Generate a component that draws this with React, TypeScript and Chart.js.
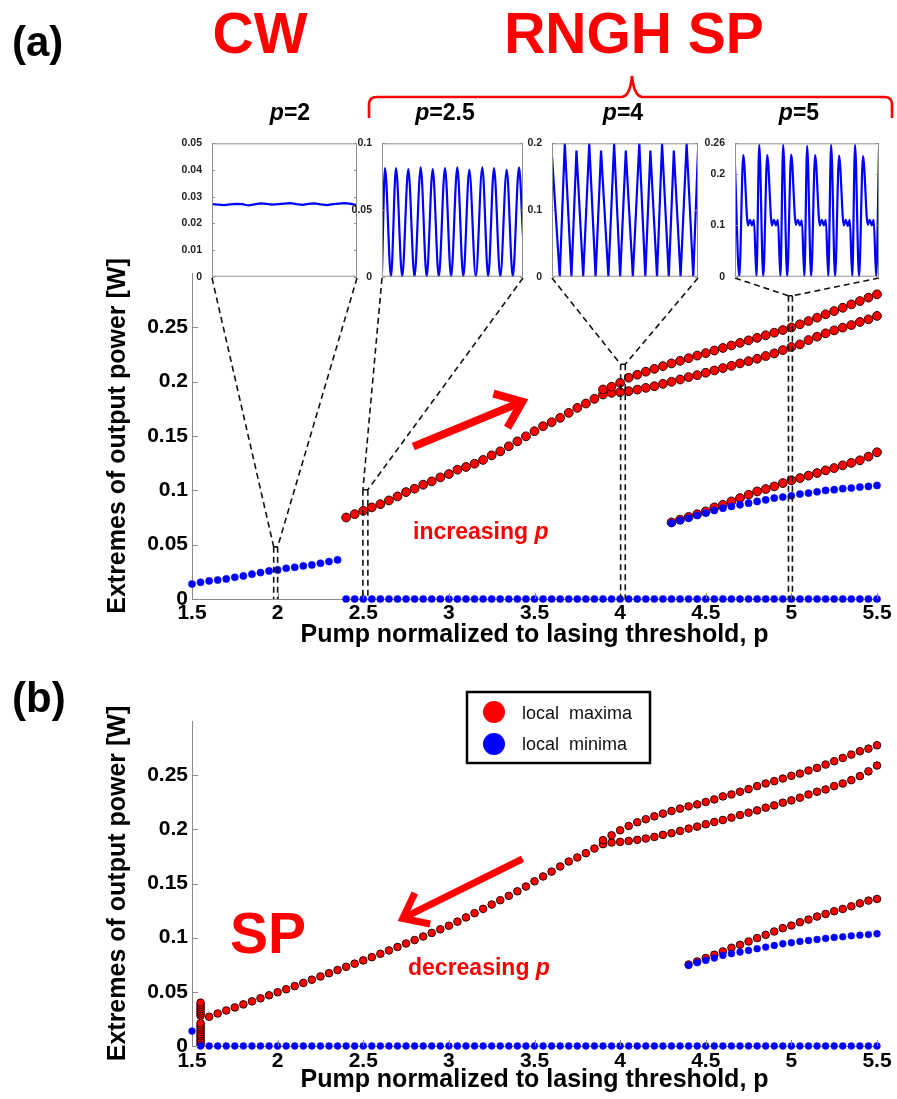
import React, { useEffect, useRef } from "react";
import { Chart, registerables } from "chart.js";

Chart.register(...registerables);

const FONT = '"Liberation Sans", Arial, Helvetica, sans-serif';
const RED = "#ff0000";
const BLUE = "#0000ff";
const AXIS_GRAY = "#8a8a8a";

// ---------------- pump grid (normalized pump p) ----------------
const P_GRID = [
  1.5, 1.55, 1.6, 1.65, 1.7, 1.75, 1.8, 1.85, 1.9, 1.95,
  2, 2.05, 2.1, 2.15, 2.2, 2.25, 2.3, 2.35, 2.4, 2.45,
  2.5, 2.55, 2.6, 2.65, 2.7, 2.75, 2.8, 2.85, 2.9, 2.95,
  3, 3.05, 3.1, 3.15, 3.2, 3.25, 3.3, 3.35, 3.4, 3.45,
  3.5, 3.55, 3.6, 3.65, 3.7, 3.75, 3.8, 3.85, 3.9, 3.95,
  4, 4.05, 4.1, 4.15, 4.2, 4.25, 4.3, 4.35, 4.4, 4.45,
  4.5, 4.55, 4.6, 4.65, 4.7, 4.75, 4.8, 4.85, 4.9, 4.95,
  5, 5.05, 5.1, 5.15, 5.2, 5.25, 5.3, 5.35, 5.4, 5.45,
  5.5,
];

const X_TICKS = [1.5, 2, 2.5, 3, 3.5, 4, 4.5, 5, 5.5];
const X_TICK_LABELS = ["1.5", "2", "2.5", "3", "3.5", "4", "4.5", "5", "5.5"];
const Y_TICKS = [0, 0.05, 0.1, 0.15, 0.2, 0.25];
const Y_TICK_LABELS = ["0", "0.05", "0.1", "0.15", "0.2", "0.25"];
const X_TITLE = "Pump normalized to lasing threshold, p";
const Y_TITLE = "Extremes of output power [W]";

// ---------------- panel (a): increasing p ----------------
// CW regime (maxima == minima), p = 1.5 ... 2.35
const A_MIN_CW = [
  0.0138, 0.0154, 0.0166, 0.0175, 0.0185, 0.02, 0.0212, 0.0228, 0.0243,
  0.0258, 0.0268, 0.0283, 0.0292, 0.0304, 0.0314, 0.0329, 0.0344, 0.036,
];
// minima at zero, p = 2.4 ... 5.5
const A_MIN_ZERO = [
  0, 0, 0, 0, 0, 0, 0, 0, 0, 0,
  0, 0, 0, 0, 0, 0, 0, 0, 0, 0,
  0, 0, 0, 0, 0, 0, 0, 0, 0, 0,
  0, 0, 0, 0, 0, 0, 0, 0, 0, 0,
  0, 0, 0, 0, 0, 0, 0, 0, 0, 0,
  0, 0, 0, 0, 0, 0, 0, 0, 0, 0,
  0, 0, 0,
];
// upper maxima branch, p = 2.4 ... 5.5
const A_MAX_UPPER = [
  0.075, 0.0781, 0.0812, 0.0843, 0.0873, 0.0907, 0.0944, 0.0984, 0.1015, 0.1052,
  0.1082, 0.1119, 0.115, 0.119, 0.1215, 0.1245, 0.128, 0.1322, 0.1359, 0.1405,
  0.1451, 0.1497, 0.1544, 0.159, 0.1627, 0.1667, 0.1713, 0.1759, 0.1799, 0.1842,
  0.1928, 0.1953, 0.199, 0.2036, 0.2064, 0.2092, 0.2118, 0.2143, 0.2168, 0.2192,
  0.2216, 0.224, 0.2263, 0.2287, 0.231, 0.2333, 0.2357, 0.238, 0.2403, 0.2427,
  0.2451, 0.2475, 0.2499, 0.2528, 0.2558, 0.2589, 0.262, 0.265, 0.268, 0.2711,
  0.2742, 0.2773, 0.2804,
];
// lower maxima branch, p = 3.9 ... 5.5
const A_MAX_LOWER = [
  0.1882, 0.1897, 0.1903, 0.1913, 0.1927, 0.1943, 0.1958, 0.198, 0.1999, 0.202,
  0.2042, 0.206, 0.2082, 0.2103, 0.2125, 0.2146, 0.2168, 0.2189, 0.2211, 0.2236,
  0.226, 0.2291, 0.2319, 0.2343, 0.2383, 0.2414, 0.2445, 0.2472, 0.2497, 0.2521,
  0.2549, 0.2574, 0.2605,
];
// third maxima branch, p = 4.3 ... 5.5
const A_MAX_THIRD = [
  0.0705, 0.073, 0.0755, 0.078, 0.0806, 0.0843, 0.0867, 0.0898, 0.0929, 0.0959,
  0.099, 0.1012, 0.1036, 0.1067, 0.1092, 0.1113, 0.1135, 0.1159, 0.1184, 0.1205,
  0.123, 0.1252, 0.1276, 0.131, 0.135,
];
// non-zero minima branch, p = 4.3 ... 5.5
const A_MIN_LOW = [
  0.0698, 0.0723, 0.0744, 0.0769, 0.079, 0.0815, 0.0836, 0.0852, 0.0867, 0.0882,
  0.0898, 0.0913, 0.0929, 0.0938, 0.095, 0.0966, 0.0975, 0.0987, 0.0999, 0.1006,
  0.1015, 0.1021, 0.103, 0.1036, 0.1045,
];

// ---------------- panel (b): decreasing p ----------------
const B_MIN_FIRST = [0.0138]; // p = 1.5
// minima at zero, p = 1.55 ... 5.5
const B_MIN_ZERO = [
  0, 0, 0, 0, 0, 0, 0, 0, 0, 0,
  0, 0, 0, 0, 0, 0, 0, 0, 0, 0,
  0, 0, 0, 0, 0, 0, 0, 0, 0, 0,
  0, 0, 0, 0, 0, 0, 0, 0, 0, 0,
  0, 0, 0, 0, 0, 0, 0, 0, 0, 0,
  0, 0, 0, 0, 0, 0, 0, 0, 0, 0,
  0, 0, 0, 0, 0, 0, 0, 0, 0, 0,
  0, 0, 0, 0, 0, 0, 0, 0, 0, 0,
];
// scattered maxima at the jump, p = 1.55
const B_CLUSTER_P = 1.55;
const B_MAX_CLUSTER = [
  0.001, 0.003, 0.005, 0.007, 0.009, 0.011, 0.013, 0.015, 0.017, 0.019, 0.021,
  0.028, 0.03, 0.032, 0.034, 0.036, 0.038, 0.04,
];
// upper maxima branch, p = 1.6 ... 5.5
const B_MAX_UPPER = [
  0.027, 0.03, 0.0328, 0.0356, 0.0384, 0.0412, 0.044, 0.0468, 0.0496, 0.0524,
  0.0553, 0.0582, 0.0612, 0.0642, 0.0672, 0.0701, 0.0731, 0.076, 0.079, 0.082,
  0.0851, 0.0882, 0.0914, 0.0946, 0.0978, 0.1011, 0.1044, 0.1077, 0.111, 0.1148,
  0.1187, 0.1226, 0.1266, 0.1306, 0.1346, 0.1386, 0.1428, 0.1472, 0.152, 0.1565,
  0.161, 0.1657, 0.1703, 0.174, 0.178, 0.1823, 0.19, 0.1945, 0.1991, 0.2031,
  0.2065, 0.2093, 0.212, 0.2145, 0.2169, 0.2191, 0.2212, 0.223, 0.2252, 0.2276,
  0.2304, 0.2322, 0.2347, 0.2371, 0.2399, 0.2423, 0.2445, 0.2469, 0.2494, 0.2515,
  0.2543, 0.2567, 0.2598, 0.2629, 0.2659, 0.269, 0.2721, 0.2745, 0.2776,
];
// lower maxima branch, p = 3.9 ... 5.5
const B_MAX_LOWER = [
  0.1863, 0.1878, 0.1884, 0.1893, 0.1903, 0.1915, 0.193, 0.1949, 0.1964, 0.1985,
  0.2007, 0.2025, 0.2047, 0.2068, 0.2086, 0.2108, 0.2132, 0.2154, 0.2175, 0.22,
  0.2221, 0.2246, 0.2267, 0.2292, 0.2322, 0.2347, 0.2368, 0.2399, 0.2423, 0.2454,
  0.2491, 0.2535, 0.2589,
];
// third maxima branch, p = 4.4 ... 5.5
const B_MAX_THIRD = [
  0.0752, 0.078, 0.0812, 0.0843, 0.0873, 0.0907, 0.0934, 0.0965, 0.0996, 0.1026,
  0.1057, 0.1088, 0.1112, 0.1143, 0.1167, 0.1195, 0.1219, 0.1244, 0.1265, 0.129,
  0.1317, 0.1342, 0.1357,
];
// non-zero minima branch, p = 4.4 ... 5.5
const B_MIN_LOW = [
  0.0744, 0.0769, 0.079, 0.0812, 0.0836, 0.0852, 0.0867, 0.0882, 0.0898, 0.0913,
  0.0928, 0.0944, 0.0953, 0.0965, 0.0974, 0.0983, 0.0993, 0.1002, 0.1008, 0.1017,
  0.1023, 0.1029, 0.1036,
];

// ---------------- inset time traces (output power vs time) ----------------
const INSET1_T = [0, 1, 2, 3, 4, 5, 6, 7, 8, 9, 10, 11, 12, 13, 14, 15, 16, 17, 18, 19, 20, 21, 22, 23, 24];
const INSET1_V = [
  0.0272, 0.027, 0.0268, 0.0271, 0.0273, 0.0272, 0.0267, 0.0271, 0.0275, 0.0273,
  0.027, 0.0272, 0.0274, 0.0276, 0.0272, 0.0269, 0.0273, 0.0275, 0.0271, 0.0268,
  0.0272, 0.0274, 0.0276, 0.0273, 0.0268,
];
const INSET2_T = [
  0, 3, 9, 14, 20.2, 26.3, 32.5, 38.7, 44.7, 50.7, 56.8, 63, 69.1, 75.3, 81.3,
  87.3, 93.8, 100.3, 106.2, 112, 118.3, 124.7, 130.8, 137, 141,
];
const INSET2_V = [
  0.004, 0.0814, 0, 0.0814, 0, 0.0806, 0, 0.0819, 0, 0.0806, 0, 0.0814, 0,
  0.0819, 0, 0.0801, 0, 0.0819, 0, 0.0814, 0, 0.0801, 0, 0.0819, 0.03,
];
const INSET3_T = [
  0, 7.7, 12.7, 19.3, 24.3, 31, 37, 43.3, 48.7, 56, 61.7, 67.7, 73.3, 80.3,
  86.7, 92.7, 97.7, 104.3, 109.3, 116, 121, 127.7, 133.7, 140.3, 145,
];
const INSET3_V = [
  0.181, 0, 0.2, 0, 0.189, 0, 0.2, 0, 0.189, 0, 0.2, 0, 0.189, 0, 0.2, 0,
  0.189, 0, 0.2, 0, 0.189, 0, 0.2, 0, 0.189,
];
const INSET4_T = [
  0,
  4.3, 8.3, 13, 15, 17, 19, 21.5, 24.3,
  28.3, 32.3, 37, 39, 41, 43, 45.5, 48.3,
  52.3, 56.3, 61, 63, 65, 67, 69.5, 72.3,
  76.3, 80.3, 85, 87, 89, 91, 93.5, 96.3,
  100.3, 104.3, 109, 111, 113, 115, 117.5, 120.3,
  124.3, 128.3, 133, 135, 137, 139, 141.5, 144.3,
];
const INSET4_V = [
  0.2145,
  0, 0.237, 0.1, 0.111, 0.1, 0.111, 0, 0.2568,
  0, 0.237, 0.1, 0.111, 0.1, 0.111, 0, 0.2568,
  0, 0.238, 0.101, 0.111, 0.1, 0.11, 0, 0.2548,
  0, 0.237, 0.1, 0.111, 0.1, 0.111, 0, 0.2568,
  0, 0.236, 0.1, 0.111, 0.099, 0.111, 0, 0.2568,
  0, 0.235, 0.101, 0.111, 0.1, 0.111, 0, 0.25,
];

// inset boxes (page pixels) and their settings
const INSETS = [
  { L: 212, R: 357, tMax: 24, yMax: 0.05, ticks: [0, 0.01, 0.02, 0.03, 0.04, 0.05], labels: ["0", "0.01", "0.02", "0.03", "0.04", "0.05"], T: INSET1_T, V: INSET1_V, smooth: false },
  { L: 382, R: 523, tMax: 141, yMax: 0.1, ticks: [0, 0.05, 0.1], labels: ["0", "0.05", "0.1"], T: INSET2_T, V: INSET2_V, smooth: true },
  { L: 552, R: 698, tMax: 145, yMax: 0.2, ticks: [0, 0.1, 0.2], labels: ["0", "0.1", "0.2"], T: INSET3_T, V: INSET3_V, smooth: false },
  { L: 735, R: 879, tMax: 144.3, yMax: 0.26, ticks: [0, 0.1, 0.2, 0.26], labels: ["0", "0.1", "0.2", "0.26"], T: INSET4_T, V: INSET4_V, smooth: true },
];
const INSET_TOP = 143;
const INSET_BOTTOM = 278;

// zoom windows on panel (a) in data units
const ZOOM_WINDOWS = [
  { p0: 1.977, p1: 2.0, top: 0.048 },
  { p0: 2.498, p1: 2.527, top: 0.1006 },
  { p0: 4.003, p1: 4.03, top: 0.216 },
  { p0: 4.983, p1: 5.006, top: 0.279 },
];
const P_LABELS = [
  { cx: 290, text: "=2" },
  { cx: 445, text: "=2.5" },
  { cx: 623, text: "=4" },
  { cx: 799, text: "=5" },
];

// ---------------- helpers ----------------
function series(startP: number, values: number[]) {
  const i0 = P_GRID.findIndex((p) => Math.abs(p - startP) < 1e-9);
  return values.map((v, i) => ({ x: P_GRID[i0 + i], y: v }));
}

function redSet(label: string, data: any[], r: number) {
  return {
    label,
    data,
    showLine: false,
    pointRadius: r,
    pointBackgroundColor: RED,
    pointBorderColor: "#2a0000",
    pointBorderWidth: 1,
    clip: false as any,
  };
}
function blueSet(label: string, data: any[], r: number) {
  return {
    label,
    data,
    showLine: false,
    pointRadius: r,
    pointBackgroundColor: BLUE,
    pointBorderColor: BLUE,
    pointBorderWidth: 0.5,
    clip: false as any,
  };
}

function text(ctx: CanvasRenderingContext2D, s: string, x: number, y: number, font: string, color: string, align: CanvasTextAlign = "left") {
  ctx.save();
  ctx.font = font;
  ctx.fillStyle = color;
  ctx.textAlign = align;
  ctx.textBaseline = "alphabetic";
  ctx.fillText(s, x, y);
  ctx.restore();
}

// text followed by italic p, or italic p followed by text
function mixedP(ctx: CanvasRenderingContext2D, before: string, after: string, x: number, y: number, size: number, color: string, centered: boolean) {
  ctx.save();
  const bold = `bold ${size}px ${FONT}`;
  const ital = `italic bold ${size}px ${FONT}`;
  ctx.font = bold;
  const w1 = ctx.measureText(before).width;
  const w3 = ctx.measureText(after).width;
  ctx.font = ital;
  const w2 = ctx.measureText("p").width;
  let sx = centered ? x - (w1 + w2 + w3) / 2 : x;
  ctx.fillStyle = color;
  ctx.textBaseline = "alphabetic";
  ctx.textAlign = "left";
  ctx.font = bold;
  ctx.fillText(before, sx, y);
  ctx.font = ital;
  ctx.fillText("p", sx + w1, y);
  ctx.font = bold;
  ctx.fillText(after, sx + w1 + w2, y);
  ctx.restore();
}

function arrow(ctx: CanvasRenderingContext2D, x0: number, y0: number, x1: number, y1: number, w: number, head: number, color: string) {
  const dx = x1 - x0;
  const dy = y1 - y0;
  const L = Math.hypot(dx, dy);
  const ux = dx / L;
  const uy = dy / L;
  const tx = x1 - ux * w * 0.7;
  const ty = y1 - uy * w * 0.7;
  ctx.save();
  ctx.strokeStyle = color;
  ctx.lineWidth = w;
  ctx.lineCap = "butt";
  ctx.lineJoin = "miter";
  ctx.beginPath();
  ctx.moveTo(x0, y0);
  ctx.lineTo(tx - ux * 2, ty - uy * 2);
  ctx.stroke();
  const a = (38 * Math.PI) / 180;
  const bx = -ux;
  const by = -uy;
  const a1x = tx + head * (bx * Math.cos(a) - by * Math.sin(a));
  const a1y = ty + head * (bx * Math.sin(a) + by * Math.cos(a));
  const a2x = tx + head * (bx * Math.cos(-a) - by * Math.sin(-a));
  const a2y = ty + head * (bx * Math.sin(-a) + by * Math.cos(-a));
  ctx.beginPath();
  ctx.moveTo(a1x, a1y);
  ctx.lineTo(tx, ty);
  ctx.lineTo(a2x, a2y);
  ctx.stroke();
  ctx.restore();
}

function inwardTicks(chart: any) {
  const { ctx, chartArea, scales } = chart;
  ctx.save();
  ctx.strokeStyle = AXIS_GRAY;
  ctx.lineWidth = 1;
  ctx.beginPath();
  for (const v of X_TICKS) {
    const x = Math.round(scales.x.getPixelForValue(v)) + 0.5;
    ctx.moveTo(x, chartArea.bottom);
    ctx.lineTo(x, chartArea.bottom - 6);
  }
  for (const v of Y_TICKS) {
    const y = Math.round(scales.y.getPixelForValue(v)) + 0.5;
    ctx.moveTo(chartArea.left, y);
    ctx.lineTo(chartArea.left + 6, y);
  }
  ctx.stroke();
  ctx.restore();
}

// ---------------- plugins ----------------
const panelAPlugin = {
  id: "panelA",
  afterDraw(chart: any) {
    const { ctx, scales } = chart;
    inwardTicks(chart);
    const X = (p: number) => scales.x.getPixelForValue(p);
    const Y = (v: number) => scales.y.getPixelForValue(v);

    text(ctx, "(a)", 12, 56, `bold 42px ${FONT}`, "#000");
    text(ctx, "CW", 260, 53, `bold 57px ${FONT}`, RED, "center");
    text(ctx, "RNGH SP", 634, 53, `bold 57px ${FONT}`, RED, "center");

    // bracket
    ctx.save();
    ctx.strokeStyle = RED;
    ctx.lineWidth = 2.6;
    ctx.beginPath();
    ctx.moveTo(369, 118);
    ctx.lineTo(369, 104);
    ctx.quadraticCurveTo(369, 97, 377, 97);
    ctx.lineTo(622, 97);
    ctx.quadraticCurveTo(630, 96, 632, 76);
    ctx.quadraticCurveTo(634, 96, 642, 97);
    ctx.lineTo(884, 97);
    ctx.quadraticCurveTo(892, 97, 892, 104);
    ctx.lineTo(892, 118);
    ctx.stroke();
    ctx.restore();

    for (const pl of P_LABELS) mixedP(ctx, "", pl.text, pl.cx, 120, 23, "#000", true);

    // dashed zoom connectors
    ctx.save();
    ctx.strokeStyle = "#111";
    ctx.lineWidth = 1.6;
    ctx.setLineDash([6, 4]);
    ZOOM_WINDOWS.forEach((w, i) => {
      const ins = INSETS[i];
      const x0 = X(w.p0);
      const x1 = X(w.p1);
      const yt = Y(w.top);
      const yb = Y(0);
      ctx.beginPath();
      ctx.moveTo(ins.L, INSET_BOTTOM);
      ctx.lineTo(x0, yt);
      ctx.moveTo(ins.R, INSET_BOTTOM);
      ctx.lineTo(x1, yt);
      ctx.moveTo(x0, yt);
      ctx.lineTo(x0, yb);
      ctx.moveTo(x1, yt);
      ctx.lineTo(x1, yb);
      ctx.moveTo(x0, yt);
      ctx.lineTo(x1, yt);
      ctx.stroke();
    });
    ctx.restore();

    arrow(ctx, X(2.792), Y(0.1402), X(3.459), Y(0.1836), 8, 30, RED);
    mixedP(ctx, "increasing ", "", 413, 539, 23, RED, false);
  },
};

const panelBPlugin = {
  id: "panelB",
  afterDraw(chart: any) {
    const { ctx, scales } = chart;
    inwardTicks(chart);
    const X = (p: number) => scales.x.getPixelForValue(p);
    const Y = (v: number) => scales.y.getPixelForValue(v);

    text(ctx, "(b)", 12, 52, `bold 42px ${FONT}`, "#000");
    text(ctx, "SP", 268, 293, `bold 57px ${FONT}`, RED, "center");
    arrow(ctx, X(3.43), Y(0.1728), X(2.705), Y(0.1158), 7, 28, RED);
    mixedP(ctx, "decreasing ", "", 408, 315, 23, RED, false);

    // legend
    ctx.save();
    ctx.fillStyle = "#fff";
    ctx.fillRect(467, 32, 183, 71);
    ctx.strokeStyle = "#000";
    ctx.lineWidth = 2.5;
    ctx.strokeRect(467, 32, 183, 71);
    ctx.fillStyle = RED;
    ctx.beginPath();
    ctx.arc(494, 52, 11, 0, Math.PI * 2);
    ctx.fill();
    ctx.fillStyle = BLUE;
    ctx.beginPath();
    ctx.arc(494, 84, 11, 0, Math.PI * 2);
    ctx.fill();
    ctx.restore();
    text(ctx, "local  maxima", 522, 59, `18px ${FONT}`, "#111");
    text(ctx, "local  minima", 522, 90, `18px ${FONT}`, "#111");
  },
};

const insetPlugin = {
  id: "insetBox",
  beforeDraw(chart: any) {
    const { ctx, chartArea: a } = chart;
    ctx.save();
    ctx.fillStyle = "#fff";
    ctx.fillRect(a.left, a.top, a.right - a.left, a.bottom - a.top);
    ctx.restore();
  },
  afterDraw(chart: any) {
    const { ctx, chartArea: a, scales } = chart;
    ctx.save();
    ctx.strokeStyle = "#8f8f8f";
    ctx.lineWidth = 1;
    ctx.strokeRect(a.left + 0.5, a.top + 0.5, a.right - a.left - 1, a.bottom - a.top - 1);
    ctx.beginPath();
    for (const t of scales.y.ticks) {
      const y = Math.round(scales.y.getPixelForValue(t.value)) + 0.5;
      ctx.moveTo(a.left, y);
      ctx.lineTo(a.left + 3, y);
      ctx.moveTo(a.right, y);
      ctx.lineTo(a.right - 3, y);
    }
    ctx.stroke();
    ctx.restore();
  },
};

// ---------------- chart configs ----------------
function mainConfig(datasets: any[], top: number, xHeight: number, xTickPad: number, xTitlePad: number, plugin: any): any {
  return {
    type: "scatter",
    data: { datasets },
    options: {
      responsive: false,
      animation: false,
      devicePixelRatio: 1,
      events: [],
      layout: { padding: { left: 0, right: 20, top, bottom: 0 }, autoPadding: false },
      plugins: { legend: { display: false }, tooltip: { enabled: false } },
      scales: {
        x: {
          type: "linear",
          position: "bottom",
          min: 1.5,
          max: 5.5,
          afterBuildTicks: (s: any) => {
            s.ticks = X_TICKS.map((v) => ({ value: v }));
          },
          afterFit: (s: any) => {
            s.height = xHeight;
          },
          ticks: {
            autoSkip: false,
            maxRotation: 0,
            minRotation: 0,
            padding: xTickPad,
            color: "#000",
            font: { family: FONT, size: 21, weight: "bold" },
            callback: (_v: any, i: number) => X_TICK_LABELS[i],
          },
          grid: { display: true, drawOnChartArea: false, drawTicks: false, color: AXIS_GRAY },
          border: { display: true, color: AXIS_GRAY, width: 1 },
          title: {
            display: true,
            text: X_TITLE,
            color: "#000",
            font: { family: FONT, size: 25, weight: "bold" },
            padding: { top: 0, bottom: xTitlePad },
          },
        },
        y: {
          type: "linear",
          position: "left",
          min: 0,
          max: 0.3,
          afterBuildTicks: (s: any) => {
            s.ticks = Y_TICKS.map((v) => ({ value: v }));
          },
          afterFit: (s: any) => {
            s.width = 192;
          },
          ticks: {
            padding: 4,
            color: "#000",
            font: { family: FONT, size: 21, weight: "bold" },
            callback: (_v: any, i: number) => Y_TICK_LABELS[i],
          },
          grid: { display: true, drawOnChartArea: false, drawTicks: false, color: AXIS_GRAY },
          border: { display: true, color: AXIS_GRAY, width: 1 },
          title: {
            display: true,
            text: Y_TITLE,
            color: "#000",
            font: { family: FONT, size: 25, weight: "bold" },
            padding: { top: 103, bottom: 0 },
          },
        },
      },
    },
    plugins: [plugin],
  };
}

function insetConfig(ins: any): any {
  return {
    type: "line",
    data: {
      datasets: [
        {
          data: ins.V.map((v: number, i: number) => ({ x: ins.T[i], y: v })),
          borderColor: BLUE,
          borderWidth: 2.2,
          pointRadius: 0,
          fill: false,
          tension: 0,
          cubicInterpolationMode: ins.smooth ? "monotone" : "default",
        },
      ],
    },
    options: {
      responsive: false,
      animation: false,
      devicePixelRatio: 1,
      events: [],
      layout: { padding: { left: 0, right: 5, top: INSET_TOP - 135, bottom: 150 - (INSET_BOTTOM - 135) }, autoPadding: false },
      plugins: { legend: { display: false }, tooltip: { enabled: false } },
      scales: {
        x: { type: "linear", min: 0, max: ins.tMax, display: false },
        y: {
          type: "linear",
          min: 0,
          max: ins.yMax,
          afterBuildTicks: (s: any) => {
            s.ticks = ins.ticks.map((v: number) => ({ value: v }));
          },
          afterFit: (s: any) => {
            s.width = 45;
          },
          ticks: {
            padding: 2,
            color: "#222",
            font: { family: FONT, size: 10.5, weight: "bold" },
            callback: (_v: any, i: number) => ins.labels[i],
          },
          grid: { display: false },
          border: { display: false },
        },
      },
    },
    plugins: [insetPlugin],
  };
}

export default function App() {
  const aRef = useRef<HTMLCanvasElement | null>(null);
  const bRef = useRef<HTMLCanvasElement | null>(null);
  const insetRefs = useRef<(HTMLCanvasElement | null)[]>([]);

  useEffect(() => {
    const charts: Chart[] = [];
    const dsA = [
      blueSet("local minima", series(1.5, A_MIN_CW), 3.6),
      blueSet("local minima", series(2.4, A_MIN_ZERO), 3.6),
      blueSet("local minima", series(4.3, A_MIN_LOW), 3.6),
      redSet("local maxima", series(2.4, A_MAX_UPPER), 4.4),
      redSet("local maxima", series(3.9, A_MAX_LOWER), 4.4),
      redSet("local maxima", series(4.3, A_MAX_THIRD), 4.4),
    ];
    const dsB = [
      blueSet("local minima", series(1.5, B_MIN_FIRST), 3.4),
      blueSet("local minima", series(1.55, B_MIN_ZERO), 3.4),
      blueSet("local minima", series(4.4, B_MIN_LOW), 3.4),
      redSet("local maxima", B_MAX_CLUSTER.map((v) => ({ x: B_CLUSTER_P, y: v })), 3.8),
      redSet("local maxima", series(1.6, B_MAX_UPPER), 3.8),
      redSet("local maxima", series(3.9, B_MAX_LOWER), 3.8),
      redSet("local maxima", series(4.4, B_MAX_THIRD), 3.8),
    ];
    if (aRef.current) charts.push(new Chart(aRef.current, mainConfig(dsA, 273, 61, 2, 10, panelAPlugin)));
    if (bRef.current) charts.push(new Chart(bRef.current, mainConfig(dsB, 61, 53, 3, 4, panelBPlugin)));
    INSETS.forEach((ins, i) => {
      const c = insetRefs.current[i];
      if (c) charts.push(new Chart(c, insetConfig(ins)));
    });
    return () => charts.forEach((c) => c.destroy());
  }, []);

  return (
    <div style={{ position: "absolute", left: 0, top: 0, width: 897, height: 1099, background: "#fff", overflow: "hidden" }}>
      <canvas ref={aRef} width={897} height={660} style={{ position: "absolute", left: 0, top: 0 }} />
      <canvas ref={bRef} width={897} height={439} style={{ position: "absolute", left: 0, top: 660 }} />
      {INSETS.map((ins, i) => (
        <canvas
          key={i}
          ref={(el) => {
            insetRefs.current[i] = el;
          }}
          width={ins.R - ins.L + 50}
          height={150}
          style={{ position: "absolute", left: ins.L - 45, top: 135, zIndex: 2 }}
        />
      ))}
    </div>
  );
}
